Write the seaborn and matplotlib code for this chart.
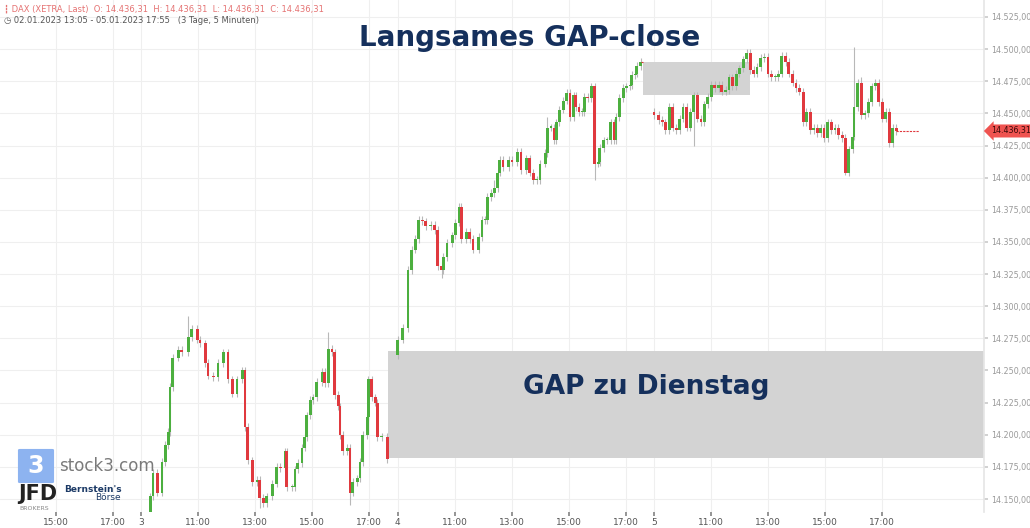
import numpy as np
import pandas as pd
import matplotlib
matplotlib.use("Agg")
import matplotlib.pyplot as plt
from matplotlib.patches import Rectangle, FancyBboxPatch
import seaborn as sns

# ---- data (minutes after 09:00, closes) ----
d3_min = [19,25,34,44,51,57,61,67,78,86,99,107,118,124,135,141,152,162,173,183,192,202,213,219,225,234,244,250,257,265,
          276,286,293,303,307,318,324,330,339,345,349,356,362,370,381,387,394,402,408,415,419,425,434,440,446,455,461,467,476,478,
          486,493,497,507,518]
d3_close = [14152,14170,14155,14179,14192,14202,14237,14260,14266,14264,14276,14282,14274,14271,14256,14246,14245,14256,14264,14243,
            14232,14243,14250,14206,14180,14163,14165,14151,14147,14152,14162,14175,14174,14187,14159,14159,14173,14178,14190,14198,
            14215,14227,14229,14241,14249,14240,14267,14264,14231,14222,14200,14187,14190,14155,14163,14166,14179,14200,14214,14243,
            14229,14225,14198,14198,14181]
d3_open = 14135

d4_min = [0,11,22,30,37,45,52,59,70,78,85,93,96,104,115,122,130,134,145,152,159,171,178,185,189,197,204,211,215,222,
          234,241,252,260,271,278,286,293,300,311,315,323,330,334,341,349,356,363,371,375,382,389,393,400,408,415,423,426,434,441,
          449,456,460,467,475,482,490,493,501,504,512]
d4_close = [14274,14283,14328,14344,14352,14367,14366,14362,14363,14359,14331,14328,14338,14349,14355,14365,14377,14352,14358,14352,
            14344,14354,14367,14367,14385,14388,14392,14404,14414,14408,14414,14412,14420,14406,14415,14404,14398,14398,14411,14419,
            14439,14439,14429,14443,14453,14460,14466,14447,14464,14455,14451,14451,14463,14462,14471,14411,14412,14423,14429,14429,
            14443,14429,14447,14462,14470,14471,14472,14480,14481,14487,14490]
d4_open = 14262

d5_min = [0,10,17,24,32,39,47,54,61,69,76,84,91,99,106,113,121,128,136,143,151,158,165,173,180,188,195,203,210,217,
          225,232,240,247,255,262,269,277,284,292,299,306,314,321,329,336,344,351,358,366,373,381,388,396,403,410,418,421,429,436,
          444,451,458,466,473,481,488,495,503,510]
d5_close = [14449,14445,14443,14437,14455,14439,14437,14446,14455,14439,14451,14464,14446,14443,14457,14463,14472,14470,14472,14467,
            14468,14478,14471,14481,14485,14492,14497,14484,14481,14486,14493,14494,14481,14478,14478,14481,14495,14490,14481,14474,
            14470,14467,14443,14451,14437,14439,14435,14439,14431,14443,14437,14439,14433,14431,14404,14422,14432,14455,14474,14449,
            14450,14459,14471,14474,14459,14446,14451,14427,14439,14436.31]
d5_open = 14451

# notable wicks: (day, minute) -> (high, low)
wick_high = {(3, 99): 14292, (3, 394): 14280, (4, 204): 14398, (4, 315): 14447, (5, 421): 14502, (5, 436): 14478}
wick_low = {(3, 250): 14143, (3, 440): 14145, (4, 415): 14398, (4, 93): 14322, (5, 403): 14402, (5, 84): 14425}

x_tick_pos = [6, 8, 9, 11, 13, 15, 17, 18, 20, 22, 24, 26, 27, 29, 31, 33, 35]
x_tick_lab = ["15:00", "17:00", "3", "11:00", "13:00", "15:00", "17:00", "4", "11:00", "13:00", "15:00", "17:00",
              "5", "11:00", "13:00", "15:00", "17:00"]
y_ticks = np.arange(14150, 14526, 25)

gap1 = (26.6, 30.37, 14464.3, 14490.0)
gap2 = (17.67, 38.6, 14182, 14265)
last_price = 14436.31

rows = []
for day, mins, closes, op in [(3, d3_min, d3_close, d3_open), (4, d4_min, d4_close, d4_open), (5, d5_min, d5_close, d5_open)]:
    prev = op
    for m, c in zip(mins, closes):
        o = prev
        hi = wick_high.get((day, m), max(o, c) + 3)
        lo = wick_low.get((day, m), min(o, c) - 3)
        rows.append(dict(t=(day - 2) * 9 + m / 60, o=o, c=c, h=hi, l=lo))
        prev = c
df = pd.DataFrame(rows)

sns.set_theme(style="white")
plt.rcParams['font.family'] = ['DejaVu Sans']

fig = plt.figure(figsize=(10.30, 5.28), dpi=100)
ax = fig.add_axes([0, 16 / 528, 984 / 1030, 1 - 16 / 528])
ax.set_xlim(4.05, 38.58)
ax.set_ylim(14139.9, 14538.2)

for yv in y_ticks:
    ax.axhline(yv, color="#efefef", lw=0.8, zorder=0)
for xv in x_tick_pos:
    ax.axvline(xv, color="#efefef", lw=0.8, zorder=0)

for (x0, x1, y0, y1) in [gap1, gap2]:
    ax.add_patch(Rectangle((x0, y0), x1 - x0, y1 - y0, facecolor="#d3d3d3", edgecolor="none", zorder=1))

green, red = "#4caf3f", "#e0393e"
cols = np.where(df.c >= df.o, green, red)
ax.vlines(df.t, df.l, df.h, color="#b8b8b8", lw=0.8, zorder=2)
ax.bar(df.t, (df.c - df.o).abs().clip(lower=0.8), bottom=np.minimum(df.o, df.c), width=0.1,
       color=cols, edgecolor="none", zorder=3)

ax.hlines(d4_close[-1], df.t[len(d3_min) + len(d4_min) - 1], 26.6, color=red, lw=0.8, ls=(0, (2, 1)), zorder=3)
ax.hlines(last_price, df.t.iloc[-1], 36.3, color=red, lw=0.8, ls=(0, (2, 1)), zorder=3)

ax.set_xticks(x_tick_pos)
ax.set_xticklabels(x_tick_lab, fontsize=6.5, color="#555555")
ax.tick_params(axis="x", length=3, pad=1, color="#888888", bottom=True)
ax.set_yticks(y_ticks)
ax.yaxis.tick_right()
ax.set_yticklabels([f"{v:,.2f}".replace(",", "X").replace(".", ",").replace("X", ".") for v in y_ticks],
                   fontsize=5.8, color="#9a9a9a")
ax.tick_params(axis="y", length=3, pad=2, color="#cccccc", right=True)
for s in ax.spines.values():
    s.set_visible(False)
ax.spines["right"].set_visible(True)
ax.spines["right"].set_color("#e6e6e6")

ax.text(0.538, 0.925, "Langsames GAP-close", transform=ax.transAxes, ha="center", va="center",
        fontsize=20, fontweight="bold", color="#15305c", zorder=5)
ax.text(0.657, 0.244, "GAP zu Dienstag", transform=ax.transAxes, ha="center", va="center",
        fontsize=19, fontweight="bold", color="#15305c", zorder=5)

ax.annotate("14.436,31", xy=(1.0, last_price), xycoords=("axes fraction", "data"),
            xytext=(5, 0), textcoords="offset points", ha="left", va="center", fontsize=5.8, color="#3a0a0a",
            bbox=dict(boxstyle="larrow,pad=0.25", fc="#ef5350", ec="none"), annotation_clip=False, zorder=6)

fig.text(0.004, 0.982, "┇ DAX (XETRA, Last)  O: 14.436,31  H: 14.436,31  L: 14.436,31  C: 14.436,31",
         fontsize=6, color="#e57373", va="center")
fig.text(0.004, 0.962, "◷ 02.01.2023 13:05 - 05.01.2023 17:55   (3 Tage, 5 Minuten)",
         fontsize=6, color="#555555", va="center")

fig.patches.append(FancyBboxPatch((20 / 1030, 1 - 482 / 528), 32 / 1030, 32 / 528,
                                  boxstyle="round,pad=0.002", transform=fig.transFigure,
                                  fc="#8db3f0", ec="none", zorder=6))
fig.text(36 / 1030, 1 - 466 / 528, "3", fontsize=17, color="white", ha="center", va="center", fontweight="bold", zorder=7)
fig.text(59 / 1030, 1 - 466 / 528, "stock3.com", fontsize=12, color="#7a7a7a", va="center", zorder=7)
fig.text(18 / 1030, 1 - 494 / 528, "JFD", fontsize=15, color="#222222", va="center", fontweight="bold", zorder=7)
fig.text(19 / 1030, 1 - 509 / 528, "BROKERS", fontsize=4.5, color="#888888", va="center", zorder=7)
fig.text(64 / 1030, 1 - 489 / 528, "Bernstein's", fontsize=6.5, color="#1c3a66", va="center", fontweight="bold", zorder=7)
fig.text(95 / 1030, 1 - 497 / 528, "Börse", fontsize=6.5, color="#1c3a66", va="center", zorder=7)

fig.savefig("out.png", dpi=100)
